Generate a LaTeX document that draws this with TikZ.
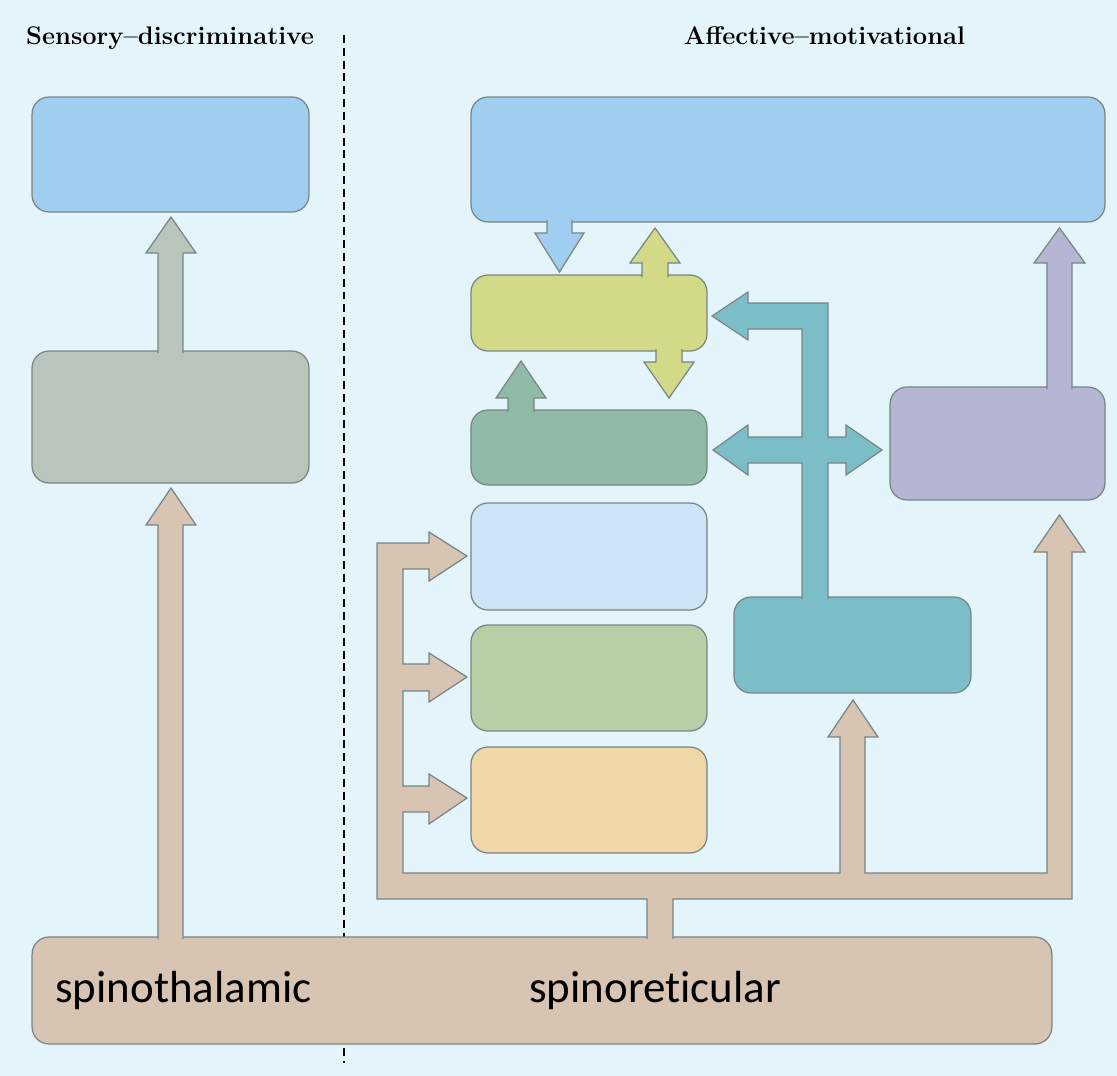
\documentclass[tikz,border=0pt]{standalone}
\usepackage{fontspec}
\usepackage{tikz}
\newfontfamily\carlito[Ligatures=NoCommon]{Carlito}

\definecolor{bgblue}{HTML}{E3F4FA}
\definecolor{edgegray}{HTML}{7A8484}
\definecolor{skyblue}{HTML}{A0CEF0}
\definecolor{sage}{HTML}{B9C4BA}
\definecolor{lime}{HTML}{D2DA87}
\definecolor{jade}{HTML}{8FBAA5}
\definecolor{paleblue}{HTML}{CEE3F5}
\definecolor{moss}{HTML}{B7CFA6}
\definecolor{sand}{HTML}{F0D7A6}
\definecolor{teal}{HTML}{7CBEC8}
\definecolor{lilac}{HTML}{B4B6D4}
\definecolor{tan}{HTML}{D8C4B2}

\tikzset{
  box/.style={draw=edgegray, line width=0.7pt, rounded corners=0.34cm,
    inner sep=0pt, outer sep=0pt},
  barrow/.style={fill=#1, draw=edgegray, line width=0.7pt, line join=miter},
  heading/.style={font=\fontsize{14.5}{17}\selectfont\bfseries, anchor=base},
  tract/.style={font=\carlito\fontsize{25.6}{30}\selectfont, anchor=base west}
}

\begin{document}
\begin{tikzpicture}[x=0.02cm, y=-0.02cm]
	\useasboundingbox (0,0) rectangle (1117,1076);
	\fill[bgblue] (0,0) rectangle (1117,1076);
	\draw[line width=1.4pt, dash pattern=on 4.5pt off 2.8pt] (344,35) -- (344,1063);

	\node[heading] (sdhead) at (170,44) {Sensory–discriminative};
	\node[heading] (amhead) at (824.5,44) {Affective–motivational};

	\node[box, fill=skyblue, minimum width=5.54cm, minimum height=2.30cm] (sdtop) at (170.5,154.5) {};
	\node[box, fill=sage, minimum width=5.54cm, minimum height=2.64cm] (sdmid) at (170.5,417) {};
	\node[box, fill=skyblue, minimum width=12.68cm, minimum height=2.50cm] (amtop) at (788,159.5) {};
	\node[box, fill=lime, minimum width=4.72cm, minimum height=1.52cm] (amlime) at (589,313) {};
	\node[box, fill=jade, minimum width=4.72cm, minimum height=1.50cm] (amjade) at (589,447.5) {};
	\node[box, fill=paleblue, minimum width=4.72cm, minimum height=2.14cm] (ampale) at (589,556.5) {};
	\node[box, fill=moss, minimum width=4.72cm, minimum height=2.12cm] (ammoss) at (589,678) {};
	\node[box, fill=sand, minimum width=4.72cm, minimum height=2.12cm] (amsand) at (589,800) {};
	\node[box, fill=teal, minimum width=4.74cm, minimum height=1.92cm] (amteal) at (852.5,645) {};
	\node[box, fill=lilac, minimum width=4.30cm, minimum height=2.26cm] (amlilac) at (997.5,443.5) {};
	\node[box, fill=tan, minimum width=20.40cm, minimum height=2.14cm] (spinal) at (542,990.5) {};

	\node[tract] (stt) at (49,1002) {spinothalamic};
	\node[tract] (srt) at (523,1002) {spinoreticular};

	\path[barrow=sage] (158,353) -- (158,253) -- (146,253) -- (171,217) -- (196,253) -- (183,253) -- (183,353);
	\path[barrow=tan] (158,939) -- (158,525) -- (146,525) -- (171,488) -- (196,525) -- (183,525) -- (183,939);
	\path[barrow=skyblue] (547,220) -- (547,233) -- (535,233) -- (559.5,272) -- (584,233) -- (572,233) -- (572,220);
	\path[barrow=lime] (642,277) -- (642,263) -- (630,263) -- (655,228) -- (680,263) -- (668,263) -- (668,277);
	\path[barrow=lime] (656,349) -- (656,362) -- (644,362) -- (669,398) -- (694,362) -- (682,362) -- (682,349);
	\path[barrow=jade] (508,412) -- (508,398) -- (496,398) -- (521,361) -- (546,398) -- (534,398) -- (534,412);
	\path[barrow=lilac] (1047,389) -- (1047,263) -- (1034,263) -- (1059.5,228) -- (1085,263) -- (1072,263) -- (1072,389);
	\path[barrow=teal] (802,599) -- (802,463) -- (748,463) -- (748,475) -- (713,450) -- (748,425) -- (748,437)
		-- (802,437) -- (802,329) -- (748,329) -- (748,340) -- (712,316) -- (748,292) -- (748,303)
		-- (828,303) -- (828,437) -- (846,437) -- (846,425) -- (882,450) -- (846,475) -- (846,463)
		-- (828,463) -- (828,599);
	\path[barrow=tan] (647,939) -- (647,899) -- (377,899) -- (377,543) -- (429,543) -- (429,532) -- (467,556)
		-- (429,581) -- (429,569) -- (403,569) -- (403,664) -- (429,664) -- (429,653) -- (467,677)
		-- (429,702) -- (429,691) -- (403,691) -- (403,786) -- (429,786) -- (429,774) -- (467,798)
		-- (429,824) -- (429,812) -- (403,812) -- (403,873) -- (840,873) -- (840,737) -- (828,737)
		-- (853,700) -- (878,737) -- (865,737) -- (865,873) -- (1047,873) -- (1047,552) -- (1034,552)
		-- (1059.5,515) -- (1085,552) -- (1072,552) -- (1072,899) -- (673,899) -- (673,939);
\end{tikzpicture}
\end{document}
